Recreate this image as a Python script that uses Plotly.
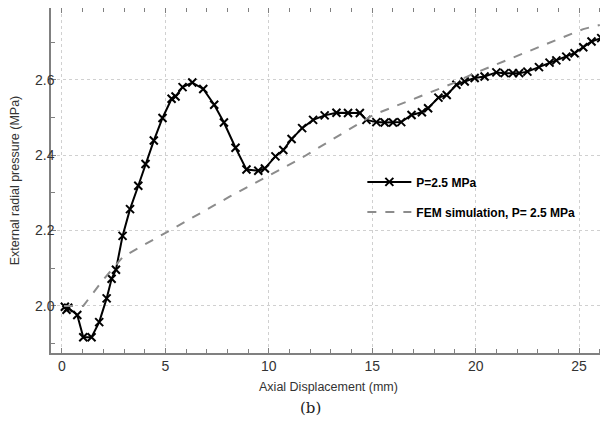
import plotly.graph_objects as go

# measured curve, P = 2.5 MPa
disp_meas = [0.14, 0.22, 0.3, 0.74, 1.03, 1.43, 1.8, 2.16, 2.4, 2.61, 2.93, 3.29,
             3.69, 4.04, 4.44, 4.86, 5.3, 5.49, 5.83, 6.3, 6.83, 7.36, 7.83, 8.39,
             8.92, 9.49, 9.81, 10.32, 10.7, 11.1, 11.61, 12.14, 12.7, 13.27, 13.83,
             14.4, 14.72, 15.2, 15.6, 16.0, 16.4, 16.9, 17.4, 17.7, 18.2, 18.6,
             19.07, 19.47, 19.95, 20.43, 21.0, 21.4, 21.8, 22.1, 22.5, 23.06,
             23.57, 23.9, 24.38, 24.78, 25.2, 25.6, 26.07]
pres_meas = [1.998, 1.99, 1.995, 1.976, 1.917, 1.917, 1.957, 2.02, 2.072, 2.096,
             2.186, 2.257, 2.319, 2.377, 2.439, 2.499, 2.55, 2.556, 2.581, 2.593,
             2.576, 2.534, 2.487, 2.42, 2.362, 2.359, 2.365, 2.397, 2.414, 2.443,
             2.472, 2.494, 2.506, 2.513, 2.512, 2.512, 2.494, 2.488, 2.487, 2.487,
             2.488, 2.507, 2.514, 2.525, 2.553, 2.56, 2.587, 2.596, 2.605, 2.609,
             2.62, 2.618, 2.618, 2.618, 2.622, 2.634, 2.646, 2.652, 2.662, 2.671,
             2.687, 2.702, 2.711]

# FEM simulation
disp_fem = [0.1, 1.03, 2.0, 2.96, 5.2, 8.1, 11.5, 15.04, 17.3, 18.9, 19.95,
            22.1, 24.0, 25.2, 26.0]
pres_fem = [2.0, 2.0, 2.07, 2.131, 2.2, 2.29, 2.39, 2.507, 2.556, 2.591,
            2.618, 2.666, 2.71, 2.735, 2.746]

fig = go.Figure()
fig.add_trace(go.Scatter(x=disp_meas, y=pres_meas, mode='lines+markers',
                         name='P=2.5 MPa', legendgroup='a',
                         line=dict(color='black', width=2),
                         marker=dict(symbol='x-thin', size=8,
                                     line=dict(color='black', width=2))))
fig.add_trace(go.Scatter(x=disp_fem, y=pres_fem, mode='lines',
                         name='FEM simulation, P= 2.5 MPa', legendgroup='b',
                         line=dict(color='#8c8c8c', width=2, dash='dash')))

axis_common = dict(showgrid=True, gridcolor='#d0d0d0', griddash='dot', gridwidth=1,
                   showline=True, linecolor='#808080', linewidth=1.5,
                   ticks='inside', ticklen=5, tickcolor='#808080',
                   tickfont=dict(family='Liberation Sans, Arial', size=14, color='#333'),
                   zeroline=False, automargin=False)

fig.update_xaxes(range=[-0.53, 26.3], tick0=0, dtick=5, mirror='ticks',
                 ticklabelstandoff=-1,
                 minor=dict(dtick=1, ticks='inside', ticklen=4, tickcolor='#808080',
                            showgrid=False),
                 title=dict(text='Axial Displacement (mm)', standoff=10,
                            font=dict(family='Liberation Sans, Arial', size=12.5, color='#333')),
                 **axis_common)
fig.update_yaxes(range=[1.875, 2.791], tick0=2.0, dtick=0.2, tickformat='.1f',
                 ticklabelstandoff=-8,
                 minor=dict(dtick=0.1, ticks='inside', ticklen=4, tickcolor='#808080',
                            showgrid=False),
                 title=dict(text='External radial pressure (MPa)', standoff=14,
                            font=dict(family='Liberation Sans, Arial', size=12.5, color='#333')),
                 **axis_common)

fig.add_annotation(text='(b)', xref='paper', yref='paper', x=0.468, y=-0.159,
                   showarrow=False, yanchor='middle',
                   font=dict(family='DejaVu Serif', size=15, color='#222'))

# the page adds an 8px body margin, so the figure is 8px smaller than the window
fig.update_layout(width=600, height=415,
                  margin=dict(l=43, r=2, t=0, b=70),
                  plot_bgcolor='white', paper_bgcolor='white',
                  legend=dict(x=0.561, y=0.538, xanchor='left', yanchor='top',
                              tracegroupgap=11, itemwidth=44, bgcolor='rgba(0,0,0,0)',
                              font=dict(family='Liberation Sans, Arial', size=12,
                                        color='black', weight='bold')))

fig.write_html("out.html")
